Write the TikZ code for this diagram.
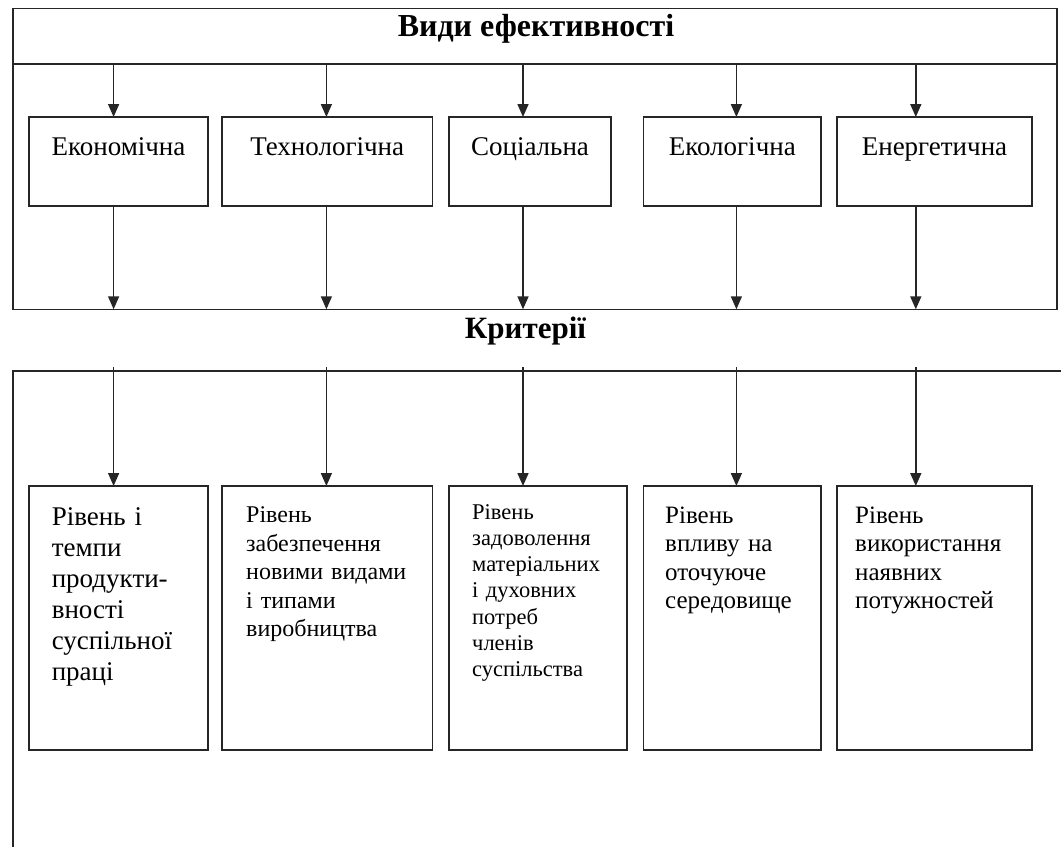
\documentclass[tikz,border=0pt]{standalone}
\usepackage{fontspec}
\setmainfont{Liberation Serif}
\newfontfamily\tnr{Liberation Serif}
\usetikzlibrary{arrows.meta,calc}
\begin{document}
\begin{tikzpicture}[x=1pt,y=-1pt,
  line/.style={line width=1.6pt,draw=black!85},
  box/.style={line, rectangle, inner sep=0pt, outer sep=0pt, anchor=north west},
  arr/.style={line, -{Triangle[width=11pt,length=13pt]}},
  head/.style={font=\tnr\fontsize{32}{36}\selectfont\bfseries, inner sep=0pt, anchor=base},
  kind/.style={font=\tnr\fontsize{27}{31}\selectfont, inner sep=0pt, anchor=base},
  crit/.style={inner sep=0pt, anchor=base west, align=left, text width=180pt}
]
\useasboundingbox (0,0) rectangle (1061,847);

% upper frame
\draw[line] (12.7,8.3) rectangle (1057,309.3);
\draw[line] (12.7,64) -- (1057,64);
\node[head] (title) at (536,36.7) {Види ефективності};

% kinds of efficiency
\node[box, minimum width=179pt,   minimum height=89pt] (e1) at (29,117) {};
\node[box, minimum width=210.5pt, minimum height=89pt] (e2) at (222,117) {};
\node[box, minimum width=162pt,   minimum height=89pt] (e3) at (449,117) {};
\node[box, minimum width=177.5pt, minimum height=89pt] (e4) at (643.5,117) {};
\node[box, minimum width=195pt,   minimum height=89pt] (e5) at (837,117) {};

\node[kind] (k1) at ($(e1.north)+(0,38)$) {Економічна};
\node[kind] (k2) at ($(e2.north)+(0,38)$) {Технологічна};
\node[kind] (k3) at ($(e3.north)+(0,38)$) {Соціальна};
\node[kind] (k4) at ($(e4.north)+(0,38)$) {Екологічна};
\node[kind] (k5) at ($(e5.north)+(0,38)$) {Енергетична};

% arrow anchor coordinates
\coordinate (t1) at (113.6,64);  \coordinate (t2) at (326.4,64);
\coordinate (t3) at (523,64);    \coordinate (t4) at (736.4,64);
\coordinate (t5) at (915.8,64);
\coordinate (m1) at (113.6,309.3); \coordinate (m2) at (326.4,309.3);
\coordinate (m3) at (523,309.3);   \coordinate (m4) at (736.4,309.3);
\coordinate (m5) at (915.8,309.3);
\coordinate (l1) at (113.6,367);  \coordinate (l2) at (326.4,367);
\coordinate (l3) at (523,367);    \coordinate (l4) at (736.4,367);
\coordinate (l5) at (915.8,367);

\foreach \i in {1,...,5}{
  \draw[arr] (t\i) -- (t\i |- e\i.north);
  \draw[arr] (e\i.south -| m\i) -- (m\i);
}

% criteria title
\node[head, font=\tnr\fontsize{31}{35}\selectfont\bfseries] (crit) at (525.5,338) {Критерії};

% lower frame (open at right and bottom)
\draw[line] (1061,370.7) -- (12.7,370.7) -- (12.7,847);

% criteria boxes
\node[box, minimum width=179pt,   minimum height=264pt] (c1) at (29,486) {};
\node[box, minimum width=210.5pt, minimum height=264pt] (c2) at (222,486) {};
\node[box, minimum width=178pt,   minimum height=264pt] (c3) at (449,486) {};
\node[box, minimum width=177.5pt, minimum height=264pt] (c4) at (643.5,486) {};
\node[box, minimum width=195pt,   minimum height=264pt] (c5) at (837,486) {};

\foreach \i in {1,...,5}{
  \draw[arr] (l\i) -- (l\i |- c\i.north);
}

\node[crit, font=\tnr\fontsize{27}{31}\selectfont] (x1) at (51.6,525)
  {Рівень і\\темпи\\продукти-\\вності\\суспільної\\праці};
\node[crit, font=\tnr\fontsize{24}{28.5}\selectfont] (x2) at (246,522.7)
  {Рівень\\забезпечення\\новими видами\\і типами\\виробництва};
\node[crit, font=\tnr\fontsize{22.5}{26.3}\selectfont] (x3) at (472,519)
  {Рівень\\задоволення\\матеріальних\\і духовних\\потреб\\членів\\суспільства};
\node[crit, font=\tnr\fontsize{25}{28.5}\selectfont] (x4) at (665,523)
  {Рівень\\впливу на\\оточуюче\\середовище};
\node[crit, font=\tnr\fontsize{25}{28.5}\selectfont] (x5) at (855,523)
  {Рівень\\використання\\наявних\\потужностей};
\end{tikzpicture}
\end{document}
